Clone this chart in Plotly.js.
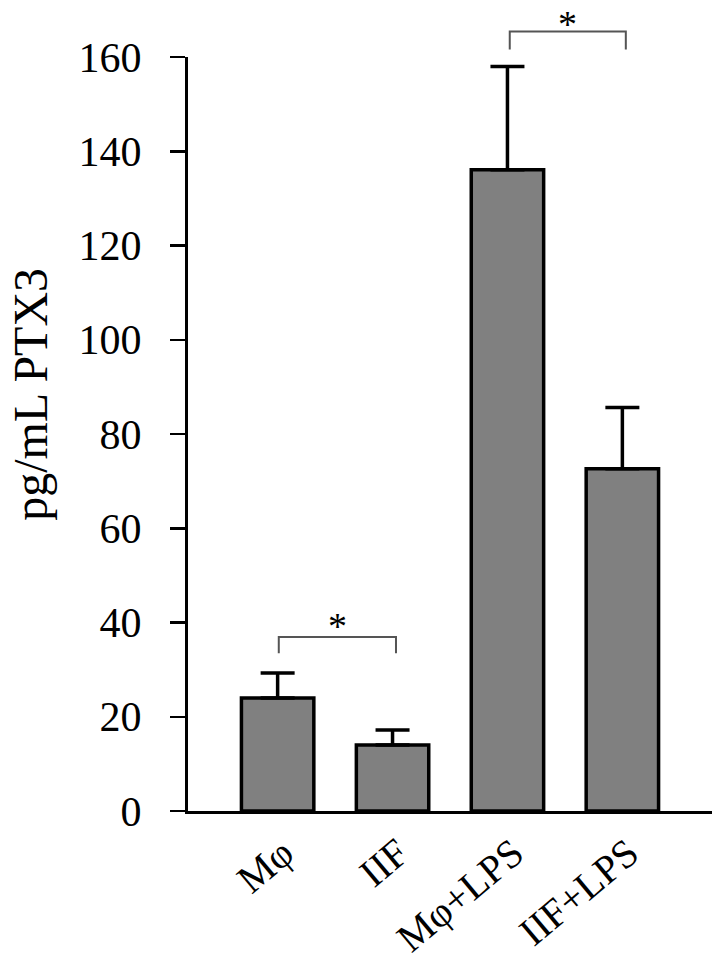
<!DOCTYPE html>
<html>
<head>
<meta charset="utf-8">
<script src="https://cdn.plot.ly/plotly-3.0.1.min.js"></script>
<style>body{margin:0;background:#fff}#chart{width:715px;height:968px}</style>
</head>
<body>
<div id="chart"></div>
<script>
const categories = ["Mφ", "IIF", "Mφ+LPS", "IIF+LPS"];
const values = [24.0, 14.0, 136.1, 72.6];
const errors = [5.3, 3.2, 21.9, 13.0];
const yTicks = [0, 20, 40, 60, 80, 100, 120, 140, 160];
const yTitle = "pg/mL PTX3";
// significance brackets: start/end position (category index), leg bottom, top, star level
const bracketStart = [0.01, 2.02];
const bracketEnd = [1.03, 3.03];
const bracketLow = [33.5, 161.6];
const bracketHigh = [36.9, 165.4];
const starLevel = [39.2, 167.1];
const starText = ["*", "*"];

const yMax = 160;
const FONT = "Liberation Serif, Times New Roman, serif";

const shapes = [];
const annotations = [];
for (let i = 0; i < bracketStart.length; i++) {
  const lo = bracketLow[i] / yMax, hi = bracketHigh[i] / yMax;
  shapes.push({
    type: "path", xref: "x", yref: "paper",
    path: `M ${bracketStart[i]} ${lo} L ${bracketStart[i]} ${hi} L ${bracketEnd[i]} ${hi} L ${bracketEnd[i]} ${lo}`,
    line: {color: "#555555", width: 2}
  });
  annotations.push({
    x: (bracketStart[i] + bracketEnd[i]) / 2, xref: "x",
    y: starLevel[i] / yMax, yref: "paper",
    text: starText[i], showarrow: false,
    font: {family: FONT, size: 38, color: "#000"},
    xanchor: "center", yanchor: "middle", borderpad: 0
  });
}
// y-axis title placed as rotated text
annotations.push({
  x: -0.2996, xref: "paper", y: 0.552, yref: "paper",
  text: yTitle, textangle: -90, showarrow: false,
  font: {family: FONT, size: 48, color: "#000"},
  xanchor: "center", yanchor: "middle"
});

const trace = {
  type: "bar",
  x: categories.map((c, i) => i),
  y: values,
  marker: {color: "#808080", line: {color: "#000", width: 3.5}},
  width: 0.63,
  error_y: {
    type: "data", array: errors, arrayminus: values.map(() => 0), symmetric: false,
    color: "#000", thickness: 3.5, width: 17
  },
  cliponaxis: false
};

const layout = {
  width: 715, height: 968,
  margin: {l: 188, r: 3, t: 57, b: 157},
  paper_bgcolor: "#fff", plot_bgcolor: "#fff",
  showlegend: false,
  font: {family: FONT, color: "#000"},
  xaxis: {
    range: [-0.78, 3.78],
    tickmode: "array", tickvals: categories.map((c, i) => i), ticktext: categories,
    tickangle: -40, ticks: "", showgrid: false, zeroline: false,
    showline: true, linecolor: "#000", linewidth: 3,
    ticklabelshift: 6,
    tickfont: {family: FONT, size: 40, color: "#000"}
  },
  yaxis: {
    range: [0, yMax], tickmode: "array", tickvals: yTicks,
    ticks: "outside", ticklen: 15, tickwidth: 2.5, tickcolor: "#000",
    showline: true, linecolor: "#000", linewidth: 3,
    showgrid: false, zeroline: false,
    ticklabelstandoff: 20,
    tickfont: {family: FONT, size: 42, color: "#000"}
  },
  shapes: shapes,
  annotations: annotations
};

Plotly.newPlot("chart", [trace], layout, {displayModeBar: false, staticPlot: true});
</script>
</body>
</html>
